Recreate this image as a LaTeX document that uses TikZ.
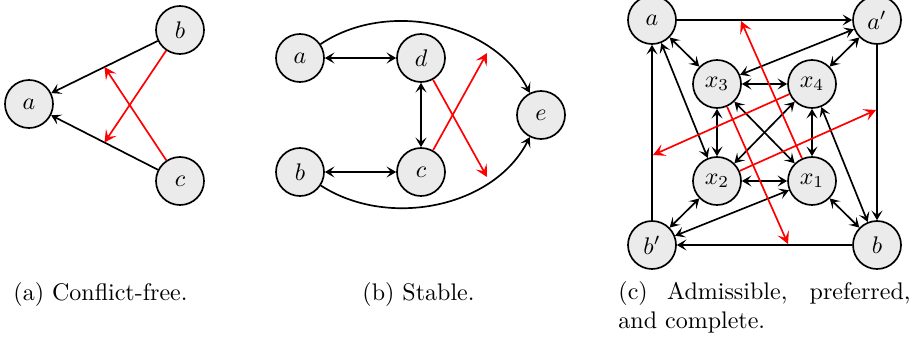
\documentclass[tikz,border=0pt]{standalone}
\usetikzlibrary{arrows.meta}
\definecolor{argfill}{HTML}{EBEBEB}
\definecolor{attred}{HTML}{FF0000}

\begin{document}
\begin{tikzpicture}[
  x=0.4167pt, y=0.4167pt,
  >={Stealth[length=4pt,width=4.6pt,inset=1.8pt]},
  arg/.style={circle, draw, fill=argfill, line width=.7pt,
    minimum size=20pt, inner sep=0pt},
  att/.style={->, line width=.7pt},
  mutual/.style={<->, line width=.7pt},
  defeat/.style={-{Stealth[length=5pt,width=5.2pt,inset=2.2pt]},
    draw=attred, line width=.7pt},
  caption/.style={inner sep=0pt}
]
  \useasboundingbox (0,0) rectangle (916,338);

  % (a) conflict-free
  \node[arg] (aA) at (29,234) {$a$};
  \node[arg] (bA) at (180,308) {$b$};
  \node[arg] (cA) at (180,157) {$c$};
  \draw[att] (bA) -- coordinate[pos=.5] (baA) (aA);
  \draw[att] (cA) -- coordinate[pos=.5] (caA) (aA);
  \draw[defeat] (bA) -- (caA);
  \draw[defeat] (cA) -- (baA);

  % (b) stable
  \node[arg] (aB) at (300,280) {$a$};
  \node[arg] (dB) at (421,280) {$d$};
  \node[arg] (bB) at (300,166) {$b$};
  \node[arg] (cB) at (421,166) {$c$};
  \node[arg] (eB) at (541,223) {$e$};
  \coordinate (topB) at (487,285);
  \coordinate (lowB) at (487,161);
  \draw[mutual] (aB) -- (dB);
  \draw[mutual] (bB) -- (cB);
  \draw[mutual] (dB) -- (cB);
  \draw[att] (aB) to[out=34,in=117,looseness=.95] (eB);
  \draw[att] (bB) to[out=-33,in=-117,looseness=.95] (eB);
  \draw[defeat] (dB) -- (lowB);
  \draw[defeat] (cB) -- (topB);

  % (c) admissible, preferred, complete
  \node[arg] (aC) at (652,318) {$a$};
  \node[arg] (apC) at (877,318) {$a'$};
  \node[arg] (x3) at (717,254) {$x_3$};
  \node[arg] (x4) at (812,254) {$x_4$};
  \node[arg] (x2) at (717,157) {$x_2$};
  \node[arg] (x1) at (812,157) {$x_1$};
  \node[arg] (bpC) at (652,93) {$b'$};
  \node[arg] (bC) at (877,93) {$b$};
  \draw[att] (aC) -- (apC);
  \draw[att] (apC) -- (bC);
  \draw[att] (bC) -- (bpC);
  \draw[att] (bpC) -- (aC);
  \draw[mutual] (aC) -- (x3);
  \draw[mutual] (apC) -- (x3);
  \draw[mutual] (apC) -- (x4);
  \draw[mutual] (x3) -- (x4);
  \draw[mutual] (x3) -- (x2);
  \draw[mutual] (x4) -- (x1);
  \draw[mutual] (x2) -- (x1);
  \draw[mutual] (x2) -- (bpC);
  \draw[mutual] (x1) -- (bpC);
  \draw[mutual] (x1) -- (bC);
  \draw[mutual] (aC) -- (x2);
  \draw[mutual] (bC) -- (x4);
  \draw[mutual] (x3) -- (x1);
  \draw[mutual] (x4) -- (x2);
  \coordinate (upC) at (741,317);
  \coordinate (downC) at (788,94);
  \coordinate (leftC) at (653,183);
  \coordinate (rightC) at (876,228);
  \draw[defeat] (x3) -- (downC);
  \draw[defeat] (x1) -- (upC);
  \draw[defeat] (x4) -- (leftC);
  \draw[defeat] (x2) -- (rightC);

  % captions
  \node[caption, anchor=base west] (capA) at (13,38) {(a) Conflict-free.};
  \node[caption, anchor=base west] (capB) at (362,38) {(b) Stable.};
  \node[caption, anchor=north west, text width=121.7pt, align=justify]
    (capC) at (618,57) {(c) Admissible, preferred, and complete.};
\end{tikzpicture}
\end{document}
